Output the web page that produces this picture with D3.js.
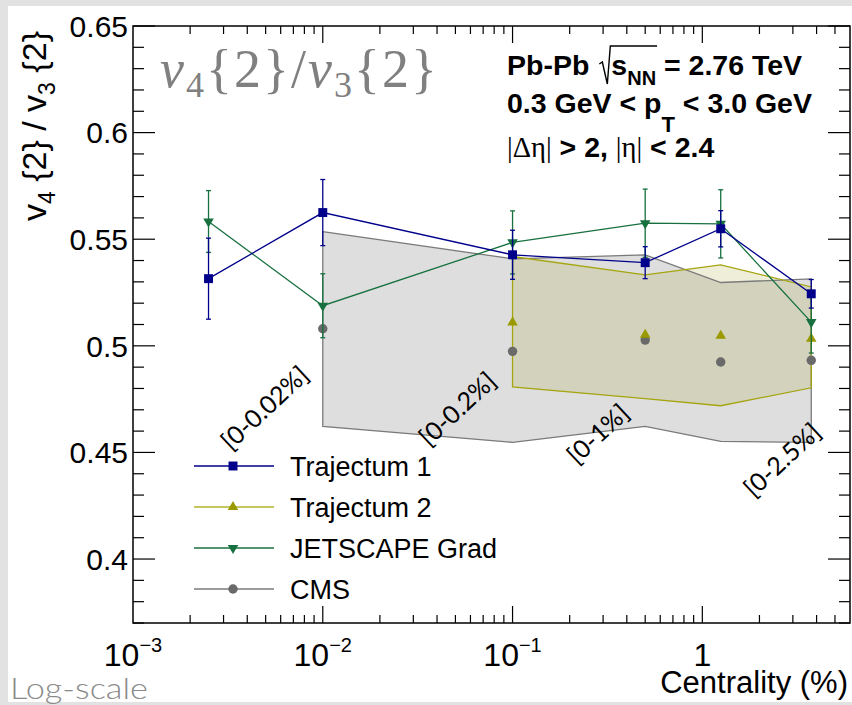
<!DOCTYPE html>
<meta charset="utf-8">
<style>
    body { margin: 0; background: #e2e2e2; }
    text { font-family: "Liberation Sans", Arial, sans-serif; fill: #000; }
    .thin { font-family: Lato, "Open Sans", sans-serif; font-weight: 300; }
    .binlab { font-family: Lato, "Open Sans", sans-serif; font-weight: 400; }
</style>
<body>
<script src="https://d3js.org/d3.v7.min.js"></script>
<script>

    // centrality bin centres (%)
    var centrality = [0.0025, 0.01, 0.1, 0.5, 1.25, 3.75];

    var traj1 = [0.5315, 0.5625, 0.5427, 0.539, 0.5549, 0.5244];
    var traj1Err = [0.019, 0.0155, 0.0115, 0.0075, 0.0085, 0.0067];

    var jetscape = [0.5583, 0.5188, 0.5485, 0.5575, 0.5572, 0.5111];
    var jetscapeErr = [0.0145, 0.015, 0.0148, 0.016, 0.016, 0.0145];

    // Trajectum 2 starts at the 0.1 bin
    var traj2X = [0.1, 0.5, 1.25, 3.75];
    var traj2 = [0.511, 0.5052, 0.5047, 0.5033];
    var traj2Hi = [0.5419, 0.5333, 0.538, 0.5276];
    var traj2Lo = [0.4807, 0.4752, 0.4719, 0.4803];

    // CMS starts at the 0.01 bin
    var cmsX = [0.01, 0.1, 0.5, 1.25, 3.75];
    var cms = [0.508, 0.4974, 0.5027, 0.4924, 0.4932];
    var cmsHi = [0.5536, 0.5408, 0.5427, 0.5297, 0.5314];
    var cmsLo = [0.4622, 0.4547, 0.4622, 0.4552, 0.4547];

    var binLabels = ["[0-0.02%]", "[0-0.2%]", "[0-1%]", "[0-2.5%]"];
    var legendNames = ["Trajectum 1", "Trajectum 2", "JETSCAPE Grad", "CMS"];

    var W = 852, H = 705;
    var padL = 133, padR = 850, padT = 26, padB = 623;

    var blue = "#00008b", olive = "#9a9a00", oliveLine = "#b3b32a",
        green = "#17703f", grey = "#6a6a6a", greyLine = "#7a7a7a";

    var x = d3.scaleLog().domain([1e-3, 6]).range([padL, padR]);
    var y = d3.scaleLinear().domain([0.37, 0.65]).range([padB, padT]);

    var svg = d3.select("body").append("svg")
        .attr("width", W).attr("height", H);

    svg.append("rect").attr("width", W).attr("height", H).attr("fill", "#e2e2e2");
    svg.append("rect").attr("x", 8).attr("y", 6).attr("width", W - 8).attr("height", 696).attr("fill", "#fff");

    // ---- bands
    var area = d3.area()
        .x(function (d) { return x(d.x); })
        .y0(function (d) { return y(d.lo); })
        .y1(function (d) { return y(d.hi); });

    var cmsBand = cmsX.map(function (v, i) { return { x: v, lo: cmsLo[i], hi: cmsHi[i] }; });
    var traj2Band = traj2X.map(function (v, i) { return { x: v, lo: traj2Lo[i], hi: traj2Hi[i] }; });

    function closedBand(pts) {
        var upper = pts.map(function (d) { return [x(d.x), y(d.hi)]; });
        var lower = pts.slice().reverse().map(function (d) { return [x(d.x), y(d.lo)]; });
        return "M" + upper.concat(lower).join("L") + "Z";
    }

    svg.append("path").attr("d", area(cmsBand)).attr("fill", "#dedede");
    svg.append("path").attr("d", area(traj2Band)).attr("fill", "rgba(150,150,20,0.16)");
    svg.append("path").attr("d", closedBand(cmsBand)).attr("fill", "none")
        .attr("stroke", greyLine).attr("stroke-width", 1.3);
    svg.append("path").attr("d", closedBand(traj2Band)).attr("fill", "none")
        .attr("stroke", "#a5a510").attr("stroke-width", 1.3);

    // ---- bin labels (anchored at their upper-right end)
    var labelAnchors = [[0.0086, 0.4852], [0.0837, 0.4824], [0.42, 0.4674], [4.3, 0.4585]];
    svg.selectAll(".binlab").data(binLabels).enter().append("text")
        .attr("class", "binlab")
        .attr("transform", function (d, i) {
            return "translate(" + x(labelAnchors[i][0]) + "," + y(labelAnchors[i][1]) + ")rotate(-43)";
        })
        .attr("text-anchor", "end")
        .style("font-size", "25px")
        .text(function (d) { return d; });

    // ---- markers / series
    var sq = d3.symbol().type(d3.symbolSquare).size(80);
    var tri = d3.symbol().type(d3.symbolTriangle).size(48);
    var circ = d3.symbol().type(d3.symbolCircle).size(70);

    function errorBars(xs, ys, es, color) {
        var g = svg.append("g").attr("stroke", color).attr("stroke-width", 1.3);
        xs.forEach(function (v, i) {
            var cx = x(v);
            g.append("line").attr("x1", cx).attr("x2", cx).attr("y1", y(ys[i] + es[i])).attr("y2", y(ys[i] - es[i]));
            g.append("line").attr("x1", cx - 2.5).attr("x2", cx + 2.5).attr("y1", y(ys[i] + es[i])).attr("y2", y(ys[i] + es[i]));
            g.append("line").attr("x1", cx - 2.5).attr("x2", cx + 2.5).attr("y1", y(ys[i] - es[i])).attr("y2", y(ys[i] - es[i]));
        });
    }

    var line = d3.line().x(function (d) { return x(d[0]); }).y(function (d) { return y(d[1]); });

    // CMS markers
    svg.append("g").selectAll("path").data(cms).enter().append("path")
        .attr("d", circ).attr("fill", grey)
        .attr("transform", function (d, i) { return "translate(" + x(cmsX[i]) + "," + y(d) + ")"; });

    // Trajectum 2 markers
    svg.append("g").selectAll("path").data(traj2).enter().append("path")
        .attr("d", tri).attr("fill", olive)
        .attr("transform", function (d, i) { return "translate(" + x(traj2X[i]) + "," + y(d) + ")"; });

    // JETSCAPE
    errorBars(centrality, jetscape, jetscapeErr, green);
    svg.append("path").attr("d", line(d3.zip(centrality, jetscape)))
        .attr("fill", "none").attr("stroke", green).attr("stroke-width", 1.3);
    svg.append("g").selectAll("path").data(jetscape).enter().append("path")
        .attr("d", tri).attr("fill", green)
        .attr("transform", function (d, i) { return "translate(" + x(centrality[i]) + "," + y(d) + ")rotate(180)"; });

    // Trajectum 1
    errorBars(centrality, traj1, traj1Err, blue);
    svg.append("path").attr("d", line(d3.zip(centrality, traj1)))
        .attr("fill", "none").attr("stroke", blue).attr("stroke-width", 1.3);
    svg.append("g").selectAll("path").data(traj1).enter().append("path")
        .attr("d", sq).attr("fill", blue)
        .attr("transform", function (d, i) { return "translate(" + x(centrality[i]) + "," + y(d) + ")"; });

    // ---- frame and ticks
    svg.append("rect").attr("x", padL).attr("y", padT)
        .attr("width", padR - padL).attr("height", padB - padT)
        .attr("fill", "none").attr("stroke", "#000").attr("stroke-width", 1.5);

    var ticks = svg.append("g").attr("stroke", "#000").attr("stroke-width", 1.2);
    x.ticks().forEach(function (t) {
        var major = Math.abs(Math.log10(t) - Math.round(Math.log10(t))) < 1e-9;
        var len = major ? 17 : 8, px = x(t);
        if (px <= padL + 0.5 || px >= padR - 0.5) return;
        ticks.append("line").attr("x1", px).attr("x2", px).attr("y1", padB).attr("y2", padB - len);
        ticks.append("line").attr("x1", px).attr("x2", px).attr("y1", padT).attr("y2", padT + len);
    });
    y.ticks(28).forEach(function (t) {
        var major = Math.abs(t * 20 - Math.round(t * 20)) < 1e-6;
        var len = major ? 22 : 11, py = y(t);
        ticks.append("line").attr("x1", padL).attr("x2", padL + len).attr("y1", py).attr("y2", py);
        ticks.append("line").attr("x1", padR).attr("x2", padR - len).attr("y1", py).attr("y2", py);
    });

    // y tick labels
    y.ticks(28).filter(function (t) { return t > 0.375 && Math.abs(t * 20 - Math.round(t * 20)) < 1e-6; })
        .forEach(function (t) {
            svg.append("text").attr("x", 128).attr("y", y(t)).attr("dy", "0.36em")
                .attr("text-anchor", "end").style("font-size", "30px")
                .text(String(+t.toFixed(2)));
        });

    // x tick labels
    [1e-3, 1e-2, 1e-1, 1].forEach(function (t) {
        var e = Math.round(Math.log10(t));
        var tx = svg.append("text").attr("x", x(t)).attr("y", 666)
            .attr("text-anchor", "middle").style("font-size", "32px");
        if (e === 0) { tx.text("1"); return; }
        tx.append("tspan").text("10");
        tx.append("tspan").attr("dy", -14).style("font-size", "20px").text("\u2212" + (-e));
    });

    // axis titles
    svg.append("text").attr("x", 848).attr("y", 693).attr("text-anchor", "end")
        .style("font-size", "31px").text("Centrality (%)");

    var yl = svg.append("text").attr("transform", "translate(46,31)rotate(-90)")
        .attr("text-anchor", "end").style("font-size", "34px");
    yl.append("tspan").text("v");
    yl.append("tspan").attr("dy", 9).style("font-size", "23px").text("4");
    yl.append("tspan").attr("dy", -9).text(" {2} / v");
    yl.append("tspan").attr("dy", 9).style("font-size", "23px").text("3");
    yl.append("tspan").attr("dy", -9).text(" {2}");

    // big title
    var tt = svg.append("text").attr("x", 160).attr("y", 87)
        .style("font-family", "'Liberation Serif', 'DejaVu Serif', serif")
        .style("font-size", "54px").style("fill", "#808080")
        .attr("textLength", 277).attr("lengthAdjust", "spacing");
    tt.append("tspan").style("font-style", "italic").text("v");
    tt.append("tspan").attr("dy", 10).style("font-size", "36px").text("4");
    tt.append("tspan").attr("dy", -10).text("{2}/");
    tt.append("tspan").style("font-style", "italic").text("v");
    tt.append("tspan").attr("dy", 10).style("font-size", "36px").text("3");
    tt.append("tspan").attr("dy", -10).text("{2}");

    // info text
    var info = svg.append("g").style("font-weight", "bold").style("font-size", "28.5px");
    var l1 = info.append("text").attr("x", 507).attr("y", 75);
    l1.append("tspan").text("Pb-Pb");
    l1.append("tspan").attr("dx", 22).text("s");
    l1.append("tspan").attr("dy", 10).style("font-size", "20px").text("NN");
    l1.append("tspan").attr("dy", -10).text(" = 2.76 TeV");
    var n1 = l1.node();
    var sx = n1.getStartPositionOfChar(5).x, nnEnd = n1.getEndPositionOfChar(7).x;
    info.append("path")
        .attr("d", "M" + (sx - 12) + ",64 L" + (sx - 9) + ",62 L" + (sx - 4) + ",84 L" + (sx - 1) + ",46 L" + (nnEnd + 1) + ",46")
        .attr("fill", "none").attr("stroke", "#000").attr("stroke-width", 1.4);

    var l2 = info.append("text").attr("x", 507).attr("y", 113);
    l2.append("tspan").text("0.3 GeV < p");
    l2.append("tspan").attr("dy", 19).style("font-size", "22px").text("T");
    l2.append("tspan").attr("dy", -19).text(" < 3.0 GeV");

    var l3 = info.append("text").attr("x", 507).attr("y", 157);
    l3.append("tspan").style("font-weight", "normal").style("font-family", "'Liberation Serif', serif").text("|\u0394\u03b7|");
    l3.append("tspan").text(" > 2, ");
    l3.append("tspan").style("font-weight", "normal").style("font-family", "'Liberation Serif', serif").text("|\u03b7|");
    l3.append("tspan").text(" < 2.4");

    // ---- legend
    var legColors = [blue, oliveLine, green, greyLine];
    var legMarkColors = [blue, olive, green, grey];
    var legSyms = [sq, tri, tri, circ];
    var leg = svg.append("g");
    legendNames.forEach(function (name, i) {
        var ly = 466 + i * 41;
        leg.append("line").attr("x1", 194).attr("x2", 274).attr("y1", ly).attr("y2", ly)
            .attr("stroke", legColors[i]).attr("stroke-width", 1.5);
        leg.append("path").attr("d", legSyms[i]).attr("fill", legMarkColors[i])
            .attr("transform", "translate(233," + ly + ")" + (i === 2 ? "rotate(180)" : ""));
        leg.append("text").attr("x", 290).attr("y", ly).attr("dy", "0.36em")
            .style("font-size", "27px").text(name);
    });

    // corner note
    svg.append("text").attr("class", "thin").attr("x", 10).attr("y", 699)
        .attr("textLength", 138).attr("lengthAdjust", "spacingAndGlyphs")
        .style("font-size", "29px").style("fill", "#8a8a8a").text("Log-scale");

</script>
</body>
